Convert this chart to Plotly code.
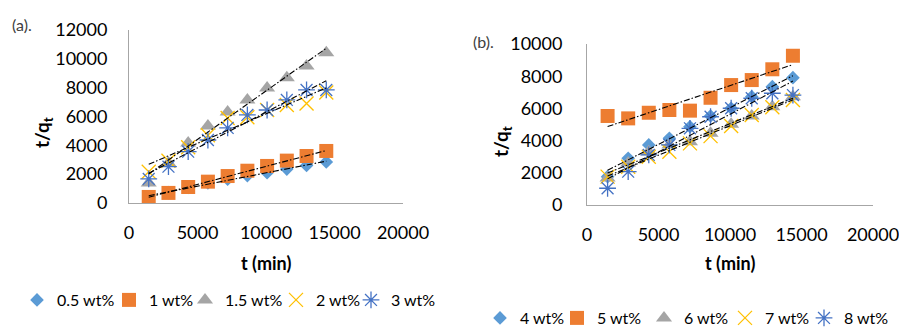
import numpy as np
import plotly.graph_objects as go

# Contact time (min), one reading per day
t_min = [1440, 2880, 4320, 5760, 7200, 8640, 10080, 11520, 12960, 14400]

# Panel (a): t/qt for 0.5-3 wt%
a_labels = ["0.5 wt%", "1 wt%", "1.5 wt%", "2 wt%", "3 wt%"]
a_05 = [400, 720, 1080, 1400, 1650, 1900, 2100, 2350, 2600, 2850]
a_1 = [420, 700, 1110, 1480, 1870, 2240, 2570, 2940, 3260, 3610]
a_15 = [1390, 2780, 4160, 5340, 6320, 7150, 7980, 8680, 9510, 10430]
a_2 = [2170, 2930, 3870, 4700, 5900, 5950, 6450, 6800, 6900, 7670]
a_3 = [1670, 2520, 3560, 4370, 5210, 6110, 6450, 7150, 7840, 7840]

# Panel (b): t/qt for 4-8 wt%
b_labels = ["4 wt%", "5 wt%", "6 wt%", "7 wt%", "8 wt%"]
b_4 = [1760, 2900, 3730, 4140, 4860, 5530, 6010, 6730, 7350, 7910]
b_5 = [5530, 5380, 5730, 5900, 5860, 6660, 7450, 7760, 8430, 9270]
b_6 = [1680, 2610, 3310, 3730, 3930, 4450, 5010, 5530, 6100, 6730]
b_7 = [1760, 2380, 3000, 3310, 3830, 4280, 4910, 5590, 6070, 6520]
b_8 = [1040, 2070, 3110, 3730, 4760, 5480, 6010, 6630, 6940, 6830]

x_ticks = [0, 5000, 10000, 15000, 20000]

FONT = "Lato"
FS = 18
LEG_FS = 16
styles = [
    dict(symbol="diamond", color="#5B9BD5", size=10.5, line=dict(width=0)),
    dict(symbol="square", color="#ED7D31", size=14, line=dict(width=0)),
    dict(symbol="triangle-up", color="#A5A5A5", size=14, line=dict(width=0)),
    dict(symbol="x-thin-open", color="#FFC000", size=14, line=dict(width=1.3, color="#FFC000")),
    dict(symbol="asterisk-open", color="#4472C4", size=14, line=dict(width=1.3, color="#4472C4")),
]

# widths reserved for each legend entry's text (px)
a_entry_w = [47, 31, 46, 30, 52]
b_entry_w = [32, 42, 36, 34, 50]

fig = go.Figure()


def add_panel(series, labels, entry_w, xa, ya, legend):
    for ys, name, st, ew in zip(series, labels, styles, entry_w):
        fig.add_trace(go.Scatter(
            x=t_min, y=ys, mode="markers", name=name, marker=st,
            xaxis=xa, yaxis=ya, legend=legend, legendwidth=ew))
    # Linear trendlines drawn over the markers
    xs = np.array(t_min, dtype=float)
    for ys in series:
        k, b = np.polyfit(xs, np.array(ys, dtype=float), 1)
        ends = np.array([xs[0], xs[-1]])
        fig.add_trace(go.Scatter(
            x=ends, y=k * ends + b, mode="lines", showlegend=False,
            line=dict(color="black", width=1.1, dash="6px,2px,1.5px,2px"),
            xaxis=xa, yaxis=ya, hoverinfo="skip"))


add_panel([a_05, a_1, a_15, a_2, a_3], a_labels, a_entry_w, "x", "y", "legend")
add_panel([b_4, b_5, b_6, b_7, b_8], b_labels, b_entry_w, "x2", "y2", "legend2")

W, H = 899, 329
axis_line = dict(showline=True, linecolor="#A6A6A6", linewidth=1,
                 showgrid=False, zeroline=False, ticks="", tickformat="d",
                 automargin=False, ticklabeloverflow="allow",
                 tickfont=dict(family=FONT, size=FS, color="black"))

fig.update_layout(
    width=W, height=H, margin=dict(l=0, r=0, t=0, b=0, autoexpand=False),
    paper_bgcolor="white", plot_bgcolor="white",
    font=dict(family=FONT, size=FS, color="black"),
    xaxis=dict(domain=[129 / W, 403 / W], range=[0, 20000], tickvals=x_ticks,
               ticklabelstandoff=13, anchor="y", **axis_line),
    yaxis=dict(domain=[(H - 203) / H, (H - 30) / H], range=[0, 12000], dtick=2000,
               ticklabelstandoff=17, anchor="x", **axis_line),
    xaxis2=dict(domain=[587 / W, 873 / W], range=[0, 20000], tickvals=x_ticks,
                ticklabelstandoff=13, anchor="y2", **axis_line),
    yaxis2=dict(domain=[(H - 205) / H, (H - 44) / H], range=[0, 10000], dtick=2000,
                ticklabelstandoff=20, anchor="x2", **axis_line),
    legend=dict(orientation="h", x=17 / W, y=(H - 300) / H, xanchor="left",
                yanchor="middle", font=dict(family=FONT, size=LEG_FS), itemwidth=30,
                bgcolor="rgba(0,0,0,0)"),
    legend2=dict(orientation="h", x=480 / W, y=(H - 318) / H, xanchor="left",
                 yanchor="middle", font=dict(family=FONT, size=LEG_FS), itemwidth=30,
                 bgcolor="rgba(0,0,0,0)"),
    showlegend=True,
)

ann = [
    dict(text="(a).", x=10 / W, y=(H - 25) / H, xanchor="left", size=16, color="#404040"),
    dict(text="(b).", x=471 / W, y=(H - 41) / H, xanchor="left", size=16, color="#404040"),
    dict(text="<b>t (min)</b>", x=266 / W, y=(H - 263) / H, xanchor="center", size=FS, color="black"),
    dict(text="<b>t (min)</b>", x=730 / W, y=(H - 263) / H, xanchor="center", size=FS, color="black"),
]
for a in ann:
    fig.add_annotation(text=a["text"], x=a["x"], y=a["y"], xref="paper", yref="paper",
                       xanchor=a["xanchor"], yanchor="middle", showarrow=False,
                       font=dict(family=FONT, size=a["size"], color=a["color"]))

for xc, yc in [(43, 133), (502, 141)]:
    fig.add_annotation(text="<b>t/q<sub>t</sub></b>", x=xc / W, y=(H - yc) / H,
                       xref="paper", yref="paper", xanchor="center", yanchor="middle",
                       textangle=-90, showarrow=False,
                       font=dict(family=FONT, size=19, color="black"))

fig.write_html("out.html")
